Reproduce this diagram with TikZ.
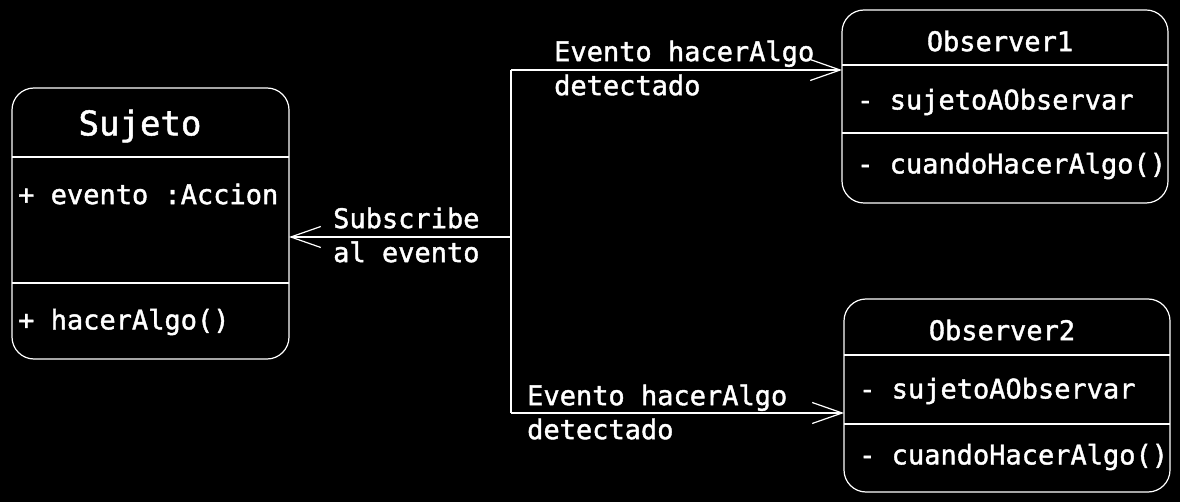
\documentclass[tikz,border=0pt]{standalone}
\usepackage{fontspec}
\newfontfamily\monofont{DejaVu Sans Mono}[FakeBold=1.5]
\usetikzlibrary{arrows.meta}
\begin{document}
\begin{tikzpicture}[x=1pt,y=-1pt,
  line/.style={draw=white,line width=1.2pt},
  umlbox/.style={line,rounded corners=22pt,fill=black},
  txt/.style={text=white,inner sep=0pt,font=\monofont\fontsize{27}{34}\selectfont},
  ttl/.style={txt},
  bigttl/.style={text=white,inner sep=0pt,font=\monofont\fontsize{34}{40}\selectfont},
  lbl/.style={txt,align=left,anchor=west},
  arr/.style={line,-{Straight Barb[length=30pt,width=21pt,line width=1.2pt]}}]
\fill[black] (0,0) rectangle (1180,502);
\useasboundingbox (0,0) rectangle (1180,502);
% Sujeto
\draw[umlbox] (12,88) rectangle (289,359);
\coordinate (sujE) at (289,223);
\draw[line] (12,157) -- (289,157);
\draw[line] (12,283) -- (289,283);
\node[bigttl] (sujT) at (140,126) {Sujeto};
\node[txt,anchor=west] (sujA) at (18,194) {+ evento :Accion};
\node[txt,anchor=west] (sujM) at (18,322) {+ hacerAlgo()};
% Observer1
\draw[umlbox] (842,10) rectangle (1168,203);
\coordinate (ob1W) at (842,106);
\draw[line] (842,65) -- (1168,65);
\draw[line] (842,133) -- (1168,133);
\node[ttl] (ob1T) at (1000,41) {Observer1};
\node[txt,anchor=west] (ob1A) at (857,102) {- sujetoAObservar};
\node[txt,anchor=west] (ob1M) at (857,166) {- cuandoHacerAlgo()};
% Observer2
\draw[umlbox] (844,299) rectangle (1170,492);
\coordinate (ob2W) at (844,395);
\draw[line] (844,355) -- (1170,355);
\draw[line] (844,424) -- (1170,424);
\node[ttl] (ob2T) at (1002,330) {Observer2};
\node[txt,anchor=west] (ob2A) at (859,391) {- sujetoAObservar};
\node[txt,anchor=west] (ob2M) at (859,457) {- cuandoHacerAlgo()};
% connectors
\coordinate (j1) at (511,70);
\coordinate (j2) at (511,237);
\coordinate (j3) at (511,413);
\draw[line] (j1) -- (j3);
\draw[arr] (j1) -- (j1 -| ob1W);
\draw[arr] (j3) -- (j3 -| ob2W);
\draw[arr] (j2) -- (j2 -| sujE);
% labels
\node[lbl] (l1) at (554,68) {Evento hacerAlgo\\detectado};
\node[lbl] (l2) at (333,235) {Subscribe\\al evento};
\node[lbl] (l3) at (527,412) {Evento hacerAlgo\\detectado};
\end{tikzpicture}
\end{document}
